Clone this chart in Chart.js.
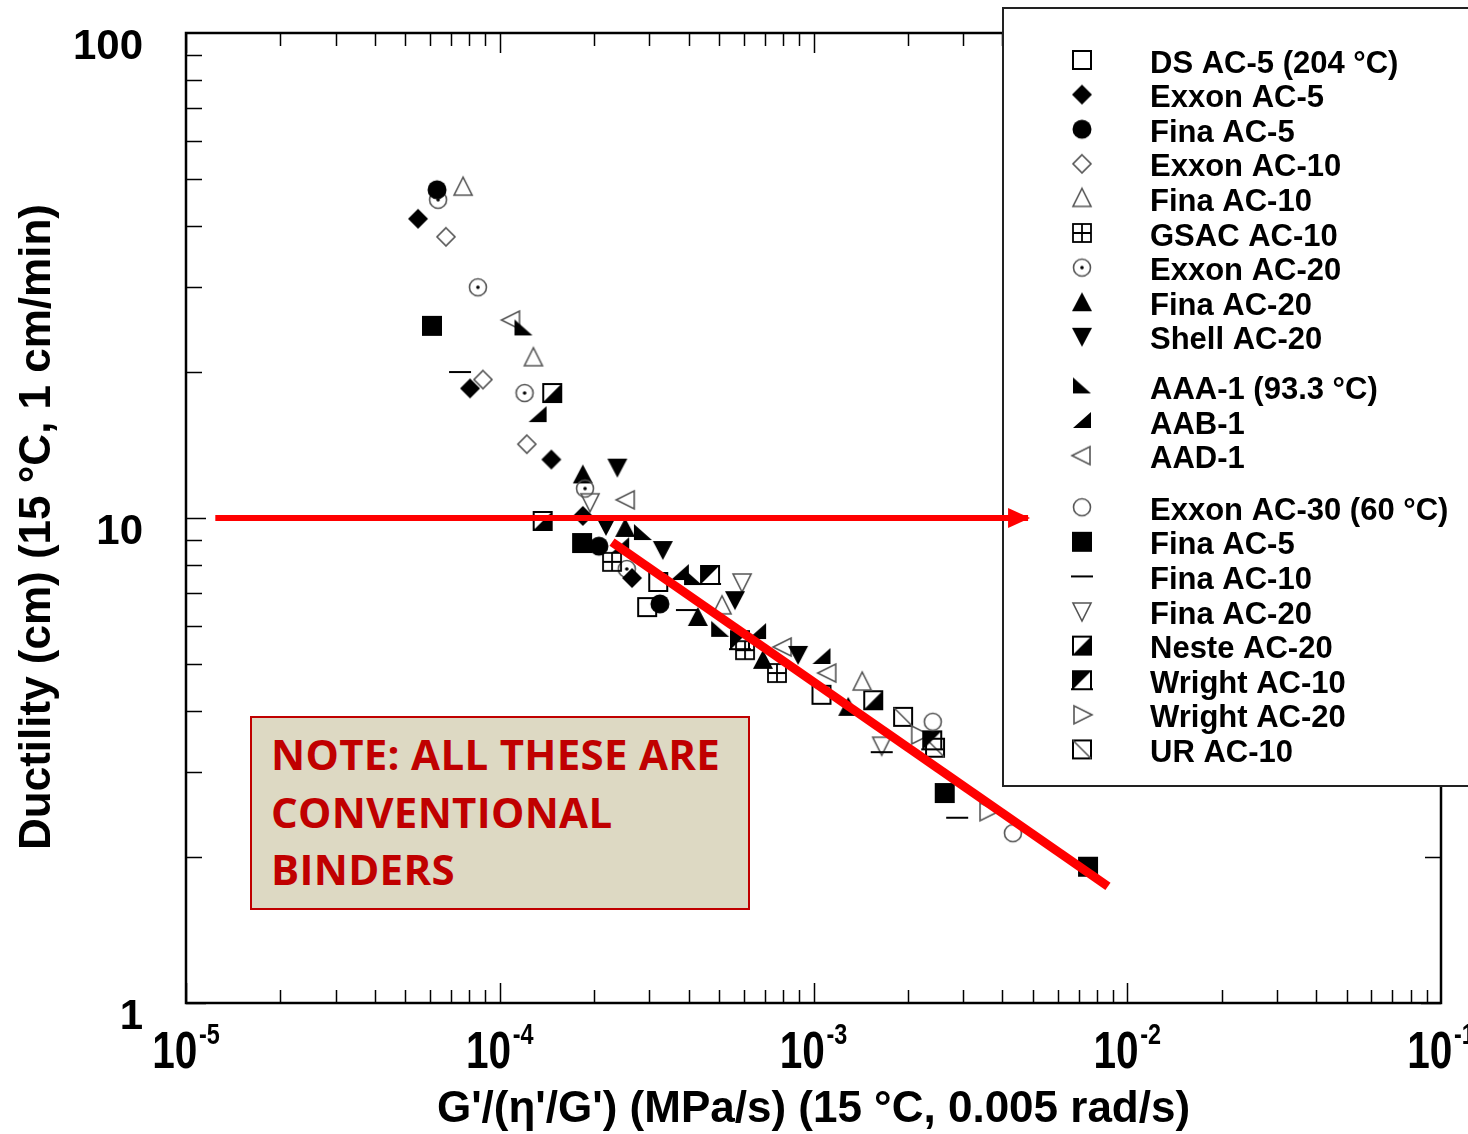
<!DOCTYPE html>
<html>
<head>
<meta charset="utf-8">
<script src="https://cdn.jsdelivr.net/npm/chart.js@4"></script>
<style>
  body { margin: 0; background: #fff; overflow: hidden; }
  #wrap { position: relative; width: 1468px; height: 1134px; }
  #note {
    position: absolute; left: 250px; top: 716px; width: 477px; height: 174px;
    background: #ddd9c3; border: 2px solid #c00000; padding: 7px 0 9px 19px;
    font-family: "Open Sans", sans-serif; font-weight: 700; font-size: 42px;
    line-height: 57.5px; color: #c00000; letter-spacing: 0.3px;
  }
</style>
</head>
<body>
<div id="wrap">
  <canvas id="chart" width="1468" height="1134"></canvas>
  <div id="note">NOTE: ALL THESE ARE<br>CONVENTIONAL<br>BINDERS</div>
</div>
<script>
// axis ticks
const xTicks = [1e-5, 1e-4, 1e-3, 1e-2, 1e-1];
const xTickExp = ['-5', '-4', '-3', '-2', '-1'];
const yTicks = [1, 10, 100];
const yTickLabels = ['1', '10', '100'];

// series, [x, y] pairs
const dsAc5 = [[3.20e-4, 7.38], [2.95e-4, 6.55], [1.06e-3, 4.32]];
const exxonAc5 = [[5.49e-5, 41.4], [8.04e-5, 18.5], [1.46e-4, 13.2], [1.84e-4, 10.1], [2.64e-4, 7.52]];
const finaAc5 = [[6.31e-5, 47.5], [2.07e-4, 8.75], [3.24e-4, 6.65]];
const exxonAc10 = [[6.74e-5, 38.0], [8.84e-5, 19.3], [1.22e-4, 14.2]];
const finaAc10 = [[7.64e-5, 48.1], [1.28e-4, 21.4], [5.11e-4, 6.59], [1.43e-3, 4.59]];
const gsacAc10 = [[2.28e-4, 8.12], [6.05e-4, 5.34], [7.65e-4, 4.79]];
const exxonAc20 = [[6.36e-5, 45.3], [8.52e-5, 29.9], [1.20e-4, 18.1], [1.87e-4, 11.5], [2.54e-4, 7.85]];
const finaAc20 = [[1.84e-4, 12.3], [2.51e-4, 9.54], [4.28e-4, 6.25], [6.90e-4, 5.10], [1.29e-3, 4.08]];
const shellAc20 = [[2.37e-4, 12.7], [2.18e-4, 9.63], [3.31e-4, 8.59], [5.62e-4, 6.77], [8.93e-4, 5.22]];
const aaa1 = [[1.19e-4, 24.6], [2.86e-4, 9.31], [4.13e-4, 7.52], [5.04e-4, 5.88]];
const aab1 = [[1.32e-4, 16.3], [2.42e-4, 8.75], [3.75e-4, 7.70], [6.61e-4, 5.82], [1.06e-3, 5.17]];
const aad1 = [[1.09e-4, 25.6], [2.53e-4, 10.9], [8.0e-4, 5.42], [1.11e-3, 4.79]];
const exxonAc30 = [[2.40e-3, 3.80], [4.32e-3, 2.24]];
const finaAc5b = [[6.08e-5, 24.9], [1.83e-4, 8.88], [2.62e-3, 2.71], [7.50e-3, 1.91]];
const finaAc10b = [[7.47e-5, 20.0], [3.95e-4, 6.46], [1.65e-3, 3.29], [2.87e-3, 2.41]];
const finaAc20b = [[1.94e-4, 10.8], [5.92e-4, 7.38], [1.65e-3, 3.40]];
const nesteAc20 = [[1.47e-4, 18.1], [1.37e-4, 9.86], [1.55e-3, 4.21]];
const wrightAc10 = [[4.68e-4, 7.63], [5.83e-4, 5.60], [2.39e-3, 3.48]];
const wrightAc20 = [[2.18e-3, 3.57], [3.60e-3, 2.48]];
const urAc10 = [[1.93e-3, 3.89], [2.44e-3, 3.36]];

const seriesNames = ['DS AC-5 (204 °C)', 'Exxon AC-5', 'Fina AC-5', 'Exxon AC-10', 'Fina AC-10',
  'GSAC AC-10', 'Exxon AC-20', 'Fina AC-20', 'Shell AC-20', 'AAA-1 (93.3 °C)', 'AAB-1', 'AAD-1',
  'Exxon AC-30 (60 °C)', 'Fina AC-5', 'Fina AC-10', 'Fina AC-20', 'Neste AC-20', 'Wright AC-10',
  'Wright AC-20', 'UR AC-10'];
const seriesData = [dsAc5, exxonAc5, finaAc5, exxonAc10, finaAc10, gsacAc10, exxonAc20, finaAc20,
  shellAc20, aaa1, aab1, aad1, exxonAc30, finaAc5b, finaAc10b, finaAc20b, nesteAc20, wrightAc10,
  wrightAc20, urAc10];
const seriesMarkers = ['sqOpen', 'diamondFill', 'circleFill', 'diamondOpen', 'triOpen', 'sqCross',
  'circleDot', 'triFill', 'triDownFill', 'cornerBL', 'cornerBR', 'triLeftOpen', 'circleOpen',
  'sqFill', 'dash', 'triDownOpen', 'sqHalfBR', 'sqHalfTL', 'triRightOpen', 'sqDiag'];

// red overlays
const trendLine = [[2.28e-4, 8.92], [8.68e-3, 1.74]];
const arrowLine = [[1.24e-5, 10], [4.83e-3, 10]];

function makeMarker(kind) {
  const c = document.createElement('canvas');
  c.width = 28; c.height = 28;
  const g = c.getContext('2d');
  const m = 14, r = 9;
  g.lineWidth = 2; g.strokeStyle = '#000'; g.fillStyle = '#000';
  const poly = pts => {
    g.beginPath(); g.moveTo(pts[0][0], pts[0][1]);
    for (let i = 1; i < pts.length; i++) g.lineTo(pts[i][0], pts[i][1]);
    g.closePath();
  };
  const gray = () => { g.strokeStyle = '#555'; g.lineWidth = 1.6; };
  switch (kind) {
    case 'sqOpen': g.strokeRect(m - r, m - r, 2 * r, 2 * r); break;
    case 'sqFill': g.fillRect(m - r - 1, m - r - 1, 2 * r + 2, 2 * r + 2); break;
    case 'diamondFill': poly([[m, m - r - 1], [m + r + 1, m], [m, m + r + 1], [m - r - 1, m]]); g.fill(); break;
    case 'diamondOpen': gray(); poly([[m, m - r], [m + r, m], [m, m + r], [m - r, m]]); g.stroke(); break;
    case 'circleFill': g.beginPath(); g.arc(m, m, r + 0.5, 0, Math.PI * 2); g.fill(); break;
    case 'circleOpen': gray(); g.beginPath(); g.arc(m, m, r - 0.5, 0, Math.PI * 2); g.stroke(); break;
    case 'circleDot':
      gray(); g.beginPath(); g.arc(m, m, r - 0.5, 0, Math.PI * 2); g.stroke();
      g.beginPath(); g.arc(m, m, 1.8, 0, Math.PI * 2); g.fill(); break;
    case 'triOpen': gray(); poly([[m, m - r - 1], [m + r, m + r - 1], [m - r, m + r - 1]]); g.stroke(); break;
    case 'triFill': poly([[m, m - r - 1], [m + r + 1, m + r], [m - r - 1, m + r]]); g.fill(); break;
    case 'triDownFill': poly([[m - r - 1, m - r], [m + r + 1, m - r], [m, m + r + 1]]); g.fill(); break;
    case 'triDownOpen': gray(); poly([[m - r, m - r + 1], [m + r, m - r + 1], [m, m + r + 1]]); g.stroke(); break;
    case 'triLeftOpen': gray(); poly([[m - r - 1, m], [m + r - 1, m - r], [m + r - 1, m + r]]); g.stroke(); break;
    case 'triRightOpen': gray(); poly([[m + r + 1, m], [m - r + 1, m - r], [m - r + 1, m + r]]); g.stroke(); break;
    case 'cornerBL': poly([[m - r, m - r], [m + r, m + r - 2], [m - r, m + r - 2]]); g.fill(); break;
    case 'cornerBR': poly([[m + r, m - r], [m + r, m + r - 2], [m - r, m + r - 2]]); g.fill(); break;
    case 'sqCross':
      g.lineWidth = 1.8; g.strokeRect(m - r, m - r, 2 * r, 2 * r);
      g.beginPath(); g.moveTo(m, m - r); g.lineTo(m, m + r); g.moveTo(m - r, m); g.lineTo(m + r, m); g.stroke(); break;
    case 'sqHalfBR':
      poly([[m - r, m + r], [m + r, m - r], [m + r, m + r]]); g.fill();
      g.strokeRect(m - r, m - r, 2 * r, 2 * r); break;
    case 'sqHalfTL':
      poly([[m - r, m - r], [m + r, m - r], [m - r, m + r]]); g.fill();
      g.strokeRect(m - r, m - r, 2 * r, 2 * r);
      g.beginPath(); g.moveTo(m - r - 2, m + r); g.lineTo(m + r + 2, m + r); g.stroke(); break;
    case 'sqDiag':
      g.strokeRect(m - r, m - r, 2 * r, 2 * r);
      gray(); g.beginPath(); g.moveTo(m - r, m - r); g.lineTo(m + r, m + r); g.stroke(); break;
    case 'dash': g.beginPath(); g.moveTo(m - 11, m); g.lineTo(m + 11, m); g.stroke(); break;
  }
  return c;
}

const markerImgs = seriesMarkers.map(makeMarker);
const toXY = arr => arr.map(p => ({ x: p[0], y: p[1] }));

const datasets = seriesData.map((d, i) => ({
  label: seriesNames[i],
  data: toXY(d),
  pointStyle: markerImgs[i],
  pointRadius: 10,
  showLine: false
}));
datasets.push({ label: 'trend', data: toXY(trendLine), showLine: true, borderColor: '#ff0000',
  borderWidth: 9, pointRadius: 0, order: -1 });
datasets.push({ label: 'arrow', data: toXY(arrowLine), showLine: true, borderColor: '#ff0000',
  borderWidth: 6, pointRadius: 0, order: -1 });

const sans = '"Liberation Sans", Arial, sans-serif';

const decor = {
  id: 'decor',
  beforeDatasetsDraw(chart) {
    const { ctx, chartArea: a, scales: { x, y } } = chart;
    ctx.save();
    ctx.strokeStyle = '#000';
    ctx.lineWidth = 1.5;
    // minor + major ticks on all four sides
    ctx.beginPath();
    for (let d = 1e-5; d < 0.05; d *= 10) {
      for (let k = 1; k <= 9; k++) {
        const px = Math.round(x.getPixelForValue(k * d)) + 0.5;
        const len = k === 1 ? 20 : 13;
        ctx.moveTo(px, a.bottom); ctx.lineTo(px, a.bottom - len);
        ctx.moveTo(px, a.top); ctx.lineTo(px, a.top + len);
      }
    }
    for (let d = 1; d < 50; d *= 10) {
      for (let k = 1; k <= 9; k++) {
        const py = Math.round(y.getPixelForValue(k * d)) + 0.5;
        const len = k === 1 ? 20 : 16;
        ctx.moveTo(a.left, py); ctx.lineTo(a.left + len, py);
        ctx.moveTo(a.right, py); ctx.lineTo(a.right - len, py);
      }
    }
    ctx.stroke();
    // frame
    ctx.lineWidth = 2.5;
    ctx.strokeRect(a.left, a.top, a.right - a.left, a.bottom - a.top);

    // y tick labels
    ctx.fillStyle = '#000';
    ctx.font = 'bold 42px ' + sans;
    ctx.textAlign = 'right';
    ctx.textBaseline = 'middle';
    yTicks.forEach((v, i) => {
      ctx.fillText(yTickLabels[i], 143, y.getPixelForValue(v) + 14);
    });
    // x tick labels: 10 with superscript exponent, condensed
    ctx.textBaseline = 'alphabetic';
    ctx.textAlign = 'left';
    const sx = 0.78;
    xTicks.forEach((v, i) => {
      ctx.font = 'bold 52px ' + sans;
      const wb = ctx.measureText('10').width;
      ctx.font = 'bold 30px ' + sans;
      const we = ctx.measureText(xTickExp[i]).width;
      const x0 = x.getPixelForValue(v) - (wb + we + 2) * sx / 2;
      ctx.save();
      ctx.translate(x0, 1068);
      ctx.scale(sx, 1);
      ctx.font = 'bold 52px ' + sans;
      ctx.fillText('10', 0, 0);
      ctx.font = 'bold 30px ' + sans;
      ctx.fillText(xTickExp[i], wb + 2, -24);
      ctx.restore();
    });
    // axis titles
    ctx.textAlign = 'center';
    ctx.textBaseline = 'middle';
    ctx.font = 'bold 44px ' + sans;
    ctx.fillText("G'/(η'/G') (MPa/s) (15 °C, 0.005 rad/s)", (a.left + a.right) / 2, 1110);
    ctx.save();
    ctx.translate(38, 527);
    ctx.rotate(-Math.PI / 2);
    ctx.fillText('Ductility (cm) (15 °C, 1 cm/min)', 0, 0);
    ctx.restore();

    // legend box
    ctx.fillStyle = '#fff';
    ctx.fillRect(1003, 8, 470, 778);
    ctx.lineWidth = 2;
    ctx.strokeStyle = '#222';
    ctx.strokeRect(1003, 8, 470, 778);
    ctx.fillStyle = '#000';
    ctx.font = 'bold 31px ' + sans;
    ctx.textAlign = 'left';
    seriesNames.forEach((name, i) => {
      let ty = 64 + i * 34.6;
      if (i >= 9) ty += 15;
      if (i >= 12) ty += 17;
      const img = markerImgs[i];
      ctx.drawImage(img, 1082 - img.width / 2, ty - 4 - img.height / 2);
      ctx.fillText(name, 1150, ty);
    });
    ctx.restore();
  },
  afterDatasetsDraw(chart) {
    const { ctx, scales: { x, y } } = chart;
    const tx = x.getPixelForValue(arrowLine[1][0]);
    const ty = y.getPixelForValue(arrowLine[1][1]);
    ctx.save();
    ctx.fillStyle = '#ff0000';
    ctx.beginPath();
    ctx.moveTo(tx + 2, ty);
    ctx.lineTo(tx - 20, ty - 10);
    ctx.lineTo(tx - 20, ty + 10);
    ctx.closePath();
    ctx.fill();
    ctx.restore();
  }
};

new Chart(document.getElementById('chart').getContext('2d'), {
  type: 'scatter',
  data: { datasets },
  options: {
    responsive: false,
    animation: false,
    events: [],
    layout: { padding: { top: 33, right: 27, left: 0, bottom: 0 } },
    plugins: { legend: { display: false }, tooltip: { enabled: false } },
    scales: {
      x: {
        type: 'logarithmic', min: 1e-5, max: 1e-1,
        grid: { display: false }, border: { display: false }, ticks: { display: false },
        afterFit(s) { s.height = 131; }
      },
      y: {
        type: 'logarithmic', min: 1, max: 100,
        grid: { display: false }, border: { display: false }, ticks: { display: false },
        afterFit(s) { s.width = 186; }
      }
    }
  },
  plugins: [decor]
});
</script>
</body>
</html>
